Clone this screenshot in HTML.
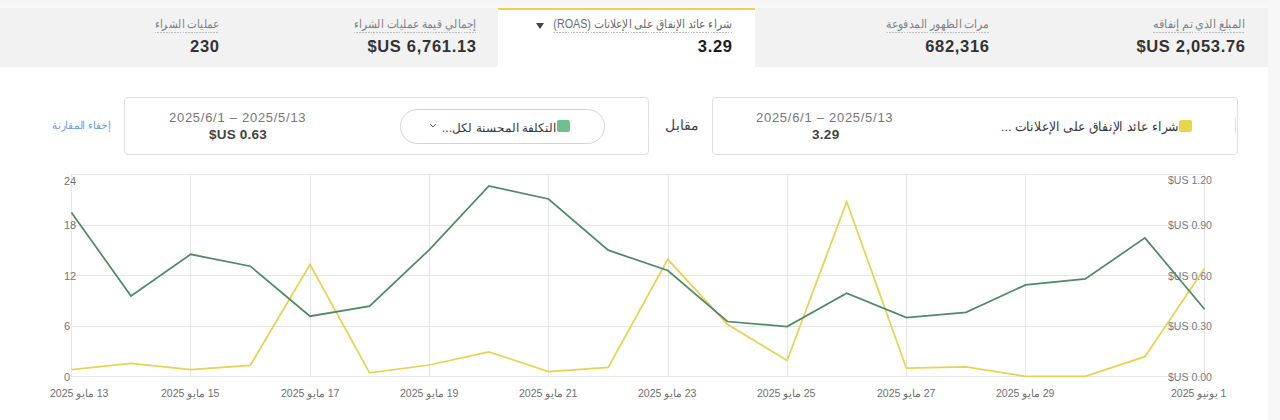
<!DOCTYPE html>
<html lang="ar">
<head>
<meta charset="utf-8">
<style>
html,body{margin:0;padding:0;}
body{width:1280px;height:420px;overflow:hidden;position:relative;background:#fff;font-family:"Liberation Sans",sans-serif;}
.abs{position:absolute;}
.topstrip{left:0;top:0;width:1280px;height:8px;background:linear-gradient(#f4f4f4,#fafafa);}
.rstrip{left:1268px;top:0;width:12px;height:420px;background:#f7f7f7;}
.hdr{left:0;top:8px;width:1268px;height:59px;background:#f2f2f2;}
.seltab{left:498px;top:8px;width:257px;height:60px;background:#fff;}
.seltab .bar{position:absolute;left:0;top:0;width:257px;height:2px;background:#e8d250;}
.lbl{direction:rtl;font-size:12px;color:#7f8286;white-space:nowrap;line-height:14px;transform-origin:100% 50%;}
.lbl span{display:inline-block;padding-bottom:2px;background:repeating-linear-gradient(to right,#bdbfc2 0 2px,transparent 2px 3.2px) left bottom/100% 1px no-repeat;}
.val{font-size:16.5px;font-weight:bold;color:#333;white-space:nowrap;line-height:20px;text-align:right;letter-spacing:0.7px;margin-right:-0.7px;}
.box{border:1px solid #dfe0e2;border-radius:4px;background:#fff;box-sizing:border-box;}
.t{white-space:nowrap;}
</style>
</head>
<body>
<div class="abs topstrip"></div>
<div class="abs hdr"></div>
<div class="abs seltab"><div class="bar"></div></div>
<div class="abs rstrip"></div>

<!-- header tabs -->
<div class="abs lbl" style="right:35px;top:17px;transform:scaleX(0.93);"><span>المبلغ الذي تم إنفاقه</span></div>
<div class="abs val" style="right:35px;top:36px;">$US 2,053.76</div>

<div class="abs lbl" style="right:291px;top:17px;transform:scaleX(0.90);"><span>مرات الظهور المدفوعة</span></div>
<div class="abs val" style="right:291px;top:36px;">682,316</div>

<div class="abs lbl" style="right:548px;top:17px;color:#6a6d71;transform:scaleX(0.893);"><span>شراء عائد الإنفاق على الإعلانات (ROAS)</span></div>
<div class="abs" style="left:536px;top:23px;width:0;height:0;border-left:4.5px solid transparent;border-right:4.5px solid transparent;border-top:6px solid #444;"></div>
<div class="abs val" style="right:548px;top:36px;color:#1c1c1c;">3.29</div>

<div class="abs lbl" style="right:804px;top:17px;transform:scaleX(0.88);"><span>إجمالي قيمة عمليات الشراء</span></div>
<div class="abs val" style="right:804px;top:36px;">$US 6,761.13</div>

<div class="abs lbl" style="right:1061px;top:17px;transform:scaleX(0.87);"><span>عمليات الشراء</span></div>
<div class="abs val" style="right:1061px;top:36px;">230</div>

<!-- compare row -->
<div class="abs box" style="left:712px;top:97px;width:526px;height:58px;"></div>
<div class="abs" style="left:1235px;top:118px;width:1px;height:16px;background:#e2e2e2;"></div>
<div class="abs" style="left:1179px;top:120px;width:13px;height:12px;border-radius:2px;background:#e9d54a;"></div>
<div class="abs t" style="right:101px;top:119px;direction:rtl;font-size:13px;color:#3a3a3a;transform:scaleX(0.957);transform-origin:100% 50%;">شراء عائد الإنفاق على الإعلانات ...</div>
<div class="abs t" style="left:756px;top:110px;font-size:13px;color:#777;letter-spacing:0.72px;">2025/6/1 – 2025/5/13</div>
<div class="abs t" style="left:812px;top:127px;font-size:13.5px;font-weight:bold;color:#444;letter-spacing:0.3px;">3.29</div>

<div class="abs t" style="left:665px;top:117px;direction:rtl;font-size:14px;color:#444;">مقابل</div>

<div class="abs box" style="left:124px;top:97px;width:525px;height:58px;"></div>
<div class="abs" style="left:400px;top:109px;width:205px;height:35px;border:1px solid #d3d5d8;border-radius:18px;box-sizing:border-box;"></div>
<div class="abs" style="left:557px;top:120px;width:13px;height:12px;border-radius:2px;background:#6fc08c;"></div>
<div class="abs t" style="right:724px;top:120px;direction:rtl;font-size:12.4px;color:#3a3a3a;">التكلفة المحسنة لكل...</div>
<svg class="abs" style="left:429px;top:122px;" width="8" height="7" viewBox="0 0 8 7"><path d="M1.2 2 L4 5 L6.8 2" fill="none" stroke="#666" stroke-width="1"/></svg>
<div class="abs t" style="left:169px;top:110px;font-size:13px;color:#777;letter-spacing:0.72px;">2025/6/1 – 2025/5/13</div>
<div class="abs t" style="left:209px;top:127px;font-size:13.5px;font-weight:bold;color:#444;letter-spacing:0.2px;">$US 0.63</div>

<div class="abs t" style="left:52px;top:119px;direction:rtl;font-size:11px;color:#6fa2e4;transform:scaleX(0.95);transform-origin:0 50%;">إخفاء المقارنة</div>

<!-- chart -->
<svg class="abs" style="left:0;top:0;" width="1280" height="420" viewBox="0 0 1280 420">
  <g stroke="#e5e6e9" stroke-width="1" fill="none" shape-rendering="crispEdges">
    <line x1="71" y1="174.5" x2="1205" y2="174.5"/>
    <line x1="71" y1="225.5" x2="1205" y2="225.5"/>
    <line x1="71" y1="275.5" x2="1205" y2="275.5"/>
    <line x1="71" y1="326.5" x2="1205" y2="326.5"/>
    <line x1="71" y1="376.5" x2="1205" y2="376.5"/>
    <line x1="71.5" y1="174" x2="71.5" y2="377"/>
    <line x1="190.5" y1="174" x2="190.5" y2="377"/>
    <line x1="310.5" y1="174" x2="310.5" y2="377"/>
    <line x1="429.5" y1="174" x2="429.5" y2="377"/>
    <line x1="548.5" y1="174" x2="548.5" y2="377"/>
    <line x1="668.5" y1="174" x2="668.5" y2="377"/>
    <line x1="787.5" y1="174" x2="787.5" y2="377"/>
    <line x1="906.5" y1="174" x2="906.5" y2="377"/>
    <line x1="1025.5" y1="174" x2="1025.5" y2="377"/>
    <line x1="1204.5" y1="174" x2="1204.5" y2="377"/>
  </g>
  <polyline fill="none" stroke="#e8d250" stroke-width="1.75" stroke-linejoin="miter" points="71.4,369.7 131.0,363.4 190.7,369.7 250.3,365.3 310.0,264.5 369.6,372.9 429.2,365.0 488.9,351.8 548.5,371.7 608.2,367.3 667.8,259.3 727.4,324.3 787.1,360.5 846.7,201.8 906.4,368.2 966.0,366.9 1025.6,376.3 1085.3,376.4 1144.9,356.7 1204.6,268.3"/>
  <polyline fill="none" stroke="#4f8a66" stroke-width="1.75" stroke-linejoin="miter" points="71.4,212.4 131.0,296.0 190.7,254.3 250.3,266.2 310.0,316.2 369.6,306.2 429.2,249.8 488.9,186.0 548.5,199.0 608.2,250.2 667.8,270.5 727.4,321.5 787.1,326.5 846.7,293.3 906.4,317.6 966.0,312.4 1025.6,284.9 1085.3,278.9 1144.9,237.9 1204.6,309.3"/>
  <g font-family="Liberation Sans" font-size="11" fill="#757575">
    <text x="64" y="185">24</text>
    <text x="64" y="229">18</text>
    <text x="64" y="280">12</text>
    <text x="64" y="330">6</text>
    <text x="64" y="380.5">0</text>
  </g>
  <g font-family="Liberation Sans" font-size="11" fill="#767b83" transform="translate(1168 0) scale(0.96 1) translate(-1168 0)">
    <text x="1168" y="184.5">$US 1.20</text>
    <text x="1168" y="229.5">$US 0.90</text>
    <text x="1168" y="280">$US 0.60</text>
    <text x="1168" y="330.5">$US 0.30</text>
    <text x="1168" y="381">$US 0.00</text>
  </g>
</svg>
<!-- date labels -->
<div class="abs t" style="left:50px;top:387px;font-size:11px;color:#707070;direction:rtl;transform:scaleX(0.96);transform-origin:0 0;">13 مايو 2025</div>
<div class="abs t" style="left:161px;top:387px;font-size:11px;color:#707070;direction:rtl;transform:scaleX(0.96);transform-origin:0 0;">15 مايو 2025</div>
<div class="abs t" style="left:281px;top:387px;font-size:11px;color:#707070;direction:rtl;transform:scaleX(0.96);transform-origin:0 0;">17 مايو 2025</div>
<div class="abs t" style="left:400px;top:387px;font-size:11px;color:#707070;direction:rtl;transform:scaleX(0.96);transform-origin:0 0;">19 مايو 2025</div>
<div class="abs t" style="left:519px;top:387px;font-size:11px;color:#707070;direction:rtl;transform:scaleX(0.96);transform-origin:0 0;">21 مايو 2025</div>
<div class="abs t" style="left:638px;top:387px;font-size:11px;color:#707070;direction:rtl;transform:scaleX(0.96);transform-origin:0 0;">23 مايو 2025</div>
<div class="abs t" style="left:757px;top:387px;font-size:11px;color:#707070;direction:rtl;transform:scaleX(0.96);transform-origin:0 0;">25 مايو 2025</div>
<div class="abs t" style="left:877px;top:387px;font-size:11px;color:#707070;direction:rtl;transform:scaleX(0.96);transform-origin:0 0;">27 مايو 2025</div>
<div class="abs t" style="left:996px;top:387px;font-size:11px;color:#707070;direction:rtl;transform:scaleX(0.96);transform-origin:0 0;">29 مايو 2025</div>
<div class="abs t" style="left:1171px;top:387px;font-size:11px;color:#707070;direction:rtl;transform:scaleX(0.96);transform-origin:0 0;">1 يونيو 2025</div>
</body>
</html>
